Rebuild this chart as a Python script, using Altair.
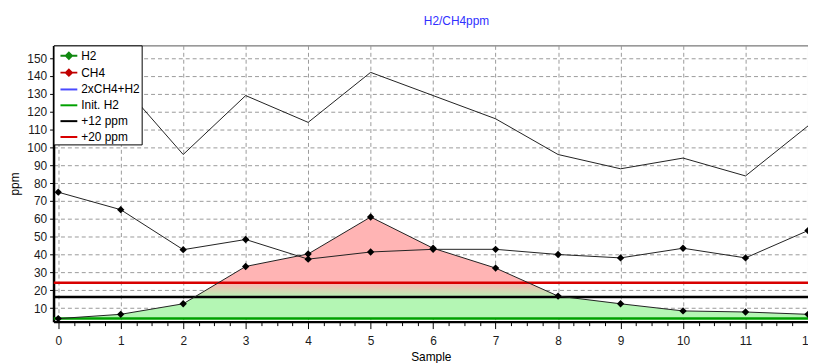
import altair as alt
import pandas as pd

# ---------------- data ----------------
samples = list(range(13))
h2 = [4.1, 6.5, 12.4, 33.3, 40.3, 61.0, 43.5, 32.4, 16.7, 12.4, 8.4, 7.8, 6.5]
ch4 = [74.9, 65.1, 42.7, 48.4, 37.4, 41.4, 42.9, 42.9, 40.0, 38.1, 43.5, 38.1, 53.4]
sum_line = [154, 136, 96, 129, 114, 142, 129, 116, 96, 88, 94, 84, 112]

ref_names = ["Init. H2", "+12 ppm", "+20 ppm"]
ref_values = [4.2, 16.2, 24.2]
ref_colors = ["#00a000", "#000000", "#d80000"]

legend_names = ["H2", "CH4", "2xCH4+H2", "Init. H2", "+12 ppm", "+20 ppm"]
legend_stroke = ["#108810", "#c00000", "#4a4aff", "#00a000", "#000000", "#d80000"]
legend_fill = ["#108810", "#c00000", "transparent", "transparent", "transparent", "transparent"]
diamond_line = "M-1,0L1,0M0,-0.36L0.36,0L0,0.36L-0.36,0Z"
plain_line = "M-1,0L1,0"
legend_shapes = [diamond_line, diamond_line, plain_line, plain_line, plain_line, plain_line]

x_ticks = [i / 4 for i in range(49)]
y_ticks = list(range(10, 151, 10))

FONT = "Liberation Sans"

df = pd.DataFrame({"Sample": samples, "H2": h2, "CH4": ch4, "Sum": sum_line,
                   "Init": [ref_values[0]] * len(samples)})
ref_df = pd.DataFrame({"name": ref_names, "value": ref_values, "color": ref_colors})
leg_df = pd.DataFrame({"series": legend_names, "Sample": [-1] * 6, "v": [80] * 6})

x_scale = alt.Scale(domain=[-0.075, 12.0], nice=False, zero=False)
y_scale = alt.Scale(domain=[2.4, 157.1], nice=False, zero=False)

x_axis = alt.Axis(
    values=x_ticks, title="Sample", format=".0f",
    labelExpr="datum.value % 1 === 0 ? datum.label : ''",
    tickSize={"condition": {"test": "datum.value % 1 === 0", "value": 7}, "value": 4},
    gridOpacity={"condition": {"test": "datum.value % 1 === 0", "value": 1}, "value": 0},
    labelOverlap=False, labelFlush=False, labelPadding=7, titlePadding=5,
)
y_axis = alt.Axis(values=y_ticks, title="ppm", tickSize=4, labelPadding=3, titlePadding=5)


def X(field="Sample"):
    return alt.X(f"{field}:Q", scale=x_scale, axis=x_axis, title="Sample")


def Y(field):
    return alt.Y(f"{field}:Q", scale=y_scale, axis=y_axis, title="ppm")


top = max(h2)
lo = ref_values[0]
off1 = (ref_values[1] - lo) / (top - lo)
off2 = (ref_values[2] - lo) / (top - lo)
grad = alt.Gradient(
    gradient="linear", x1=0, x2=0, y1=1, y2=0,
    stops=[
        alt.GradientStop(color="#b4f6b4", offset=0),
        alt.GradientStop(color="#b4f6b4", offset=off1),
        alt.GradientStop(color="#ffb4b4", offset=off2),
        alt.GradientStop(color="#ffb4b4", offset=1),
    ],
)

base = alt.Chart(df)

area = base.mark_area(color=grad, clip=True).encode(
    x=X(), y=Y("H2"), y2=alt.Y2("Init:Q"))

rules = alt.Chart(ref_df).mark_rule(strokeWidth=2.5, clip=True).encode(
    y=Y("value"), color=alt.Color("color:N", scale=None, legend=None))

sum_ln = base.mark_line(color="#202020", strokeWidth=1, clip=True).encode(x=X(), y=Y("Sum"))
ch4_ln = base.mark_line(color="#202020", strokeWidth=1, clip=True).encode(x=X(), y=Y("CH4"))
h2_ln = base.mark_line(color="#202020", strokeWidth=1, clip=True).encode(x=X(), y=Y("H2"))
ch4_pt = base.mark_point(shape="diamond", filled=True, color="black", size=55, opacity=1,
                         clip=True).encode(x=X(), y=Y("CH4"))
h2_pt = base.mark_point(shape="diamond", filled=True, color="black", size=55, opacity=1,
                        clip=True).encode(x=X(), y=Y("H2"))

leg = alt.Legend(title=None, orient="top-left", offset=0, padding=1, fillColor="white",
                 strokeColor="#000000", symbolSize=289, labelFontSize=12, labelFont=FONT,
                 labelColor="#000", labelOffset=3, rowPadding=0, symbolOffset=5,
                 symbolStrokeWidth=2, cornerRadius=0, symbolOpacity=1, labelLimit=300)
legend_layer = alt.Chart(leg_df).mark_point(clip=True, strokeWidth=2, opacity=1).encode(
    x=X(), y=Y("v"),
    fill=alt.Fill("series:N", sort=legend_names,
                  scale=alt.Scale(domain=legend_names, range=legend_fill), legend=leg),
    stroke=alt.Stroke("series:N", sort=legend_names,
                      scale=alt.Scale(domain=legend_names, range=legend_stroke), legend=leg),
    shape=alt.Shape("series:N", sort=legend_names,
                    scale=alt.Scale(domain=legend_names, range=legend_shapes), legend=leg),
)

chart = alt.layer(area, rules, sum_ln, ch4_ln, h2_ln, ch4_pt, h2_pt, legend_layer).properties(
    width=762, height=279, background="white",
    title=alt.TitleParams("H2/CH4ppm", color="#3030ff", fontSize=12, fontWeight="normal",
                          font=FONT, offset=17, dx=26, anchor="middle"),
    autosize=alt.AutoSizeParams(type="none"),
    padding={"left": 46, "top": 36, "right": 0, "bottom": 40},
).configure_view(stroke="#555555", strokeWidth=1).configure_axis(
    labelFont=FONT, labelFontSize=12, labelColor="#1a1a1a", titleFont=FONT, titleFontSize=12,
    titleFontWeight="normal", titleColor="#000", domainColor="#000", domainWidth=2.5,
    tickColor="#000", tickWidth=1, gridColor="#9a9a9a", gridDash=[4, 3], gridWidth=1,
)

chart.save("out.html", embed_options={"renderer": "svg", "actions": False})
